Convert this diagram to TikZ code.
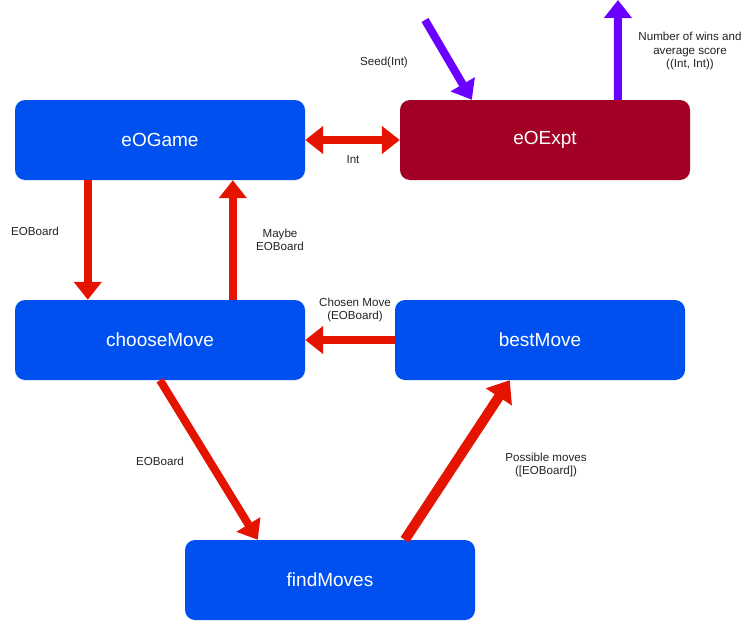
\documentclass[tikz,border=0pt]{standalone}
\usepackage{fontspec}
\setmainfont{Liberation Sans}
\usetikzlibrary{arrows.meta}
\definecolor{boxblue}{HTML}{0050EF}
\definecolor{boxred}{HTML}{A20025}
\definecolor{arrred}{HTML}{E51400}
\definecolor{arrviolet}{HTML}{6A00FF}
\definecolor{labtxt}{HTML}{222222}
\tikzset{
  box/.style={rectangle, rounded corners=10pt, minimum width=290pt, minimum height=80pt,
    inner sep=0pt, fill=boxblue, text=white, font=\fontsize{19}{23}\selectfont},
  flow/.style={draw=arrred, line width=8pt, -{Triangle[width=27pt,length=18pt]}},
  flowthick/.style={draw=arrred, line width=10pt, -{Triangle[width=30pt,length=20pt]}},
  flowboth/.style={draw=arrred, line width=8pt, {Triangle[width=27pt,length=18pt]}-{Triangle[width=27pt,length=18pt]}},
  ioflow/.style={draw=arrviolet, line width=8pt, -{Triangle[width=27pt,length=18pt]}},
  lab/.style={font=\fontsize{11.6}{13.5}\selectfont, text=labtxt, align=center, inner sep=1pt},
}
\begin{document}
\begin{tikzpicture}[x=1pt,y=-1pt]
\useasboundingbox (0,0) rectangle (750,621);
\node[box] (game) at (160,140) {eOGame};
\node[box, fill=boxred] (expt) at (545,140) {eOExpt};
\node[box] (choose) at (160,340) {chooseMove};
\node[box] (best) at (540,340) {bestMove};
\node[box] (find) at (330,580) {findMoves};
\coordinate (seedsrc) at (425,20);
\coordinate (outend) at (618,0);

\draw[flowboth] (game.east) -- (expt.west);
\draw[flow] ([xshift=73pt]game.south west) -- ([xshift=73pt]choose.north west);
\draw[flow] ([xshift=218pt]choose.north west) -- ([xshift=218pt]game.south west);
\draw[flow] (best.west) -- (choose.east);
\draw[flow] (choose.south) -- ([xshift=73pt]find.north west);
\draw[flowthick] ([xshift=220pt]find.north west) -- ([xshift=115pt]best.south west);
\draw[ioflow] (seedsrc) -- ([xshift=72pt]expt.north west);
\draw[ioflow] ([xshift=218pt]expt.north west) -- (outend);

\node[lab] (lint) at (353,160) {Int};
\node[lab] (lb1) at (35,231) {EOBoard};
\node[lab] (lmaybe) at (280,240) {Maybe\\EOBoard};
\node[lab] (lchosen) at (355,310) {Chosen Move\\(EOBoard)};
\node[lab] (lb2) at (160,461) {EOBoard};
\node[lab] (lposs) at (546,465) {Possible moves\\([EOBoard])};
\node[lab] (lseed) at (384,62) {Seed(Int)};
\node[lab] (lout) at (690,51) {Number of wins and\\average score\\((Int, Int))};
\end{tikzpicture}
\end{document}
